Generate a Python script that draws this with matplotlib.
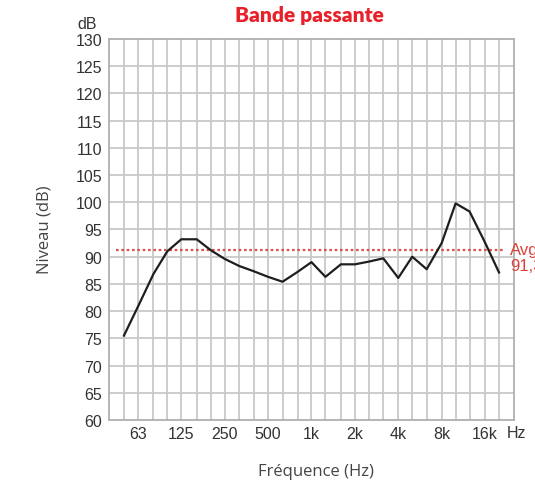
import matplotlib
matplotlib.use("Agg")
import matplotlib.pyplot as plt

# third-octave band centres (Hz) and measured level (dB)
bands = [50, 63, 80, 100, 125, 160, 200, 250, 315, 400, 500, 630, 800,
         1000, 1250, 1600, 2000, 2500, 3150, 4000, 5000, 6300, 8000,
         10000, 12500, 16000, 20000]
levels = [75.5, 81.0, 86.8, 91.0, 93.2, 93.2, 91.2, 89.6, 88.3, 87.3,
          86.3, 85.4, 87.2, 89.0, 86.3, 88.6, 88.6, 89.1, 89.7, 86.1,
          90.0, 87.7, 92.5, 99.8, 98.3, 92.6, 87.1]
avg_level = 91.3

tick_freqs = [63, 125, 250, 500, 1000, 2000, 4000, 8000, 16000]
tick_labels = ["63", "125", "250", "500", "1k", "2k", "4k", "8k", "16k"]
y_ticks = list(range(60, 131, 5))

fmin = 1000 * 2 ** (-14 / 3)
fmax = 1000 * 2 ** (14 / 3)

fig = plt.figure(figsize=(5.35, 4.85), dpi=100)
ax = fig.add_axes([0.2037, 0.132, 0.757, 0.7855])

ax.set_xscale("log")
ax.set_xlim(fmin, fmax)
ax.set_ylim(60, 130)

# grid: one vertical line per band, one horizontal line per 5 dB
for f in bands:
    ax.axvline(f, color="#c8c8c8", lw=1.3, zorder=1)
for v in y_ticks[1:-1]:
    ax.axhline(v, color="#c8c8c8", lw=1.3, zorder=1)
for s in ax.spines.values():
    s.set_color("#b0b0b0")
    s.set_linewidth(1.3)

ax.plot(bands, levels, color="#1e1e1e", lw=1.6, zorder=3)

ax.hlines(avg_level, 44, 21600, colors="#d9534f", linestyles=(0, (1.2, 1.2)),
          lw=1.6, zorder=2)
ax.text(0.99, avg_level - 1.5, "Avg\n91,3", transform=ax.get_yaxis_transform(),
        color="#e0403a", fontsize=12, family="Liberation Sans",
        ha="left", va="center", linespacing=1.05, clip_on=False)

ax.set_yticks(y_ticks)
ax.set_yticklabels([str(v) for v in y_ticks])
ax.xaxis.set_minor_locator(matplotlib.ticker.NullLocator())
ax.set_xticks(tick_freqs)
ax.set_xticklabels(tick_labels)
ax.tick_params(axis="both", length=0, labelsize=11.5, labelcolor="#333333")
ax.tick_params(axis="y", pad=5)
ax.tick_params(axis="x", pad=4)
for lab in ax.get_xticklabels() + ax.get_yticklabels():
    lab.set_family("Liberation Sans")

ax.text(0.982, -0.012, "Hz", transform=ax.transAxes, fontsize=11.5,
        color="#333333", family="Liberation Sans", ha="left", va="top")
ax.text(-0.055, 1.042, "dB", transform=ax.transAxes, fontsize=11.5,
        color="#333333", family="Liberation Sans", ha="center", va="center")

fig.text(0.578, 0.968, "Bande passante", color="#e8202a", fontsize=15,
         fontweight="heavy", family="Lato", ha="center", va="center")
fig.text(0.084, 0.526, "Niveau (dB)", rotation=90, fontsize=12,
         color="#444444", family="Open Sans", ha="center", va="center")
fig.text(0.59, 0.027, "Fréquence (Hz)", fontsize=12, color="#444444",
         family="Open Sans", ha="center", va="center")

fig.savefig("out.png", dpi=100, facecolor="white")
